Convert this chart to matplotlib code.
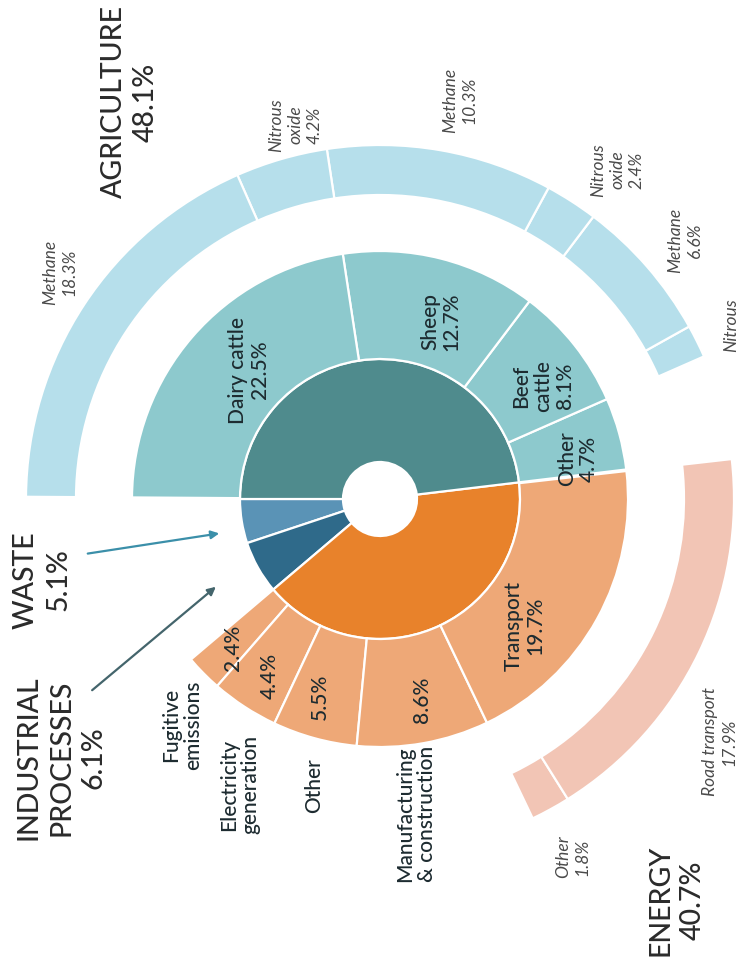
import matplotlib.pyplot as plt

W, H = 744, 962

# inner ring: sectors, counter-clockwise from 9 o'clock
sectors = ["WASTE", "INDUSTRIAL\nPROCESSES", "ENERGY", "AGRICULTURE"]
sector_pct = [5.1, 6.1, 40.7, 48.1]

# middle ring
energy_sources = ["Fugitive\nemissions", "Electricity\ngeneration", "Other",
                  "Manufacturing\n& construction", "Transport"]
energy_pct = [2.4, 4.4, 5.5, 8.6, 19.7]
agri_sources = ["Other", "Beef\ncattle", "Sheep", "Dairy cattle"]
agri_pct = [4.7, 8.1, 12.7, 22.5]

# outer ring
transport_gases = ["Other", "Road transport"]
transport_pct = [1.8, 17.9]
gases = ["Nitrous\noxide", "Methane"]
beef_pct = [1.5, 6.6]
sheep_pct = [2.4, 10.3]
dairy_pct = [4.2, 18.3]

# colours
c_inner = ["#5a93b6", "#2f6a8a", "#e8822b", "#4f8b8d"]
c_agri_mid = "#8dc9cd"
c_agri_out = "#b6dfeb"
c_en_mid = "#eea877"
c_en_out = "#f2c5b5"

center = (380, H - 500)
edge = dict(edgecolor="white", linewidth=1.6)

fig = plt.figure(figsize=(W / 100, H / 100), dpi=100)
ax = fig.add_axes([0, 0, 1, 1])


def ring(vals, cols, radius, width):
    wedges, _ = ax.pie(vals, radius=radius, center=center, startangle=180,
                       counterclock=True, colors=[c if c else "white" for c in cols],
                       wedgeprops=dict(width=width, **edge))
    for w, c in zip(wedges, cols):
        if c is None:
            w.set_visible(False)


ring(sector_pct, c_inner, 140, 103)

small = sector_pct[0] + sector_pct[1]
pad_e = max(sector_pct[2] - sum(energy_pct), 0)
pad_a = max(sector_pct[3] - sum(agri_pct), 0)
mid_vals = [small] + energy_pct + [pad_e] + agri_pct + [pad_a]
mid_cols = [None] + [c_en_mid] * 5 + [None] + [c_agri_mid] * 4 + [None]
ring(mid_vals, mid_cols, 248, 108)

out_vals = [small, sum(energy_pct[:-1])] + transport_pct + [pad_e, agri_pct[0]] \
    + beef_pct + sheep_pct + dairy_pct + [pad_a]
out_cols = [None, None] + [c_en_out] * 2 + [None, None] + [c_agri_out] * 6 + [None]
ring(out_vals, out_cols, 354, 50)

ax.set_xlim(0, W)
ax.set_ylim(0, H)
ax.axis("off")

head = dict(family="Lato", fontsize=20.5, weight="medium", color="#2b2b2b", linespacing=1.3)
inner = dict(family="Lato", fontsize=15, weight="medium", color="#1d2b30", linespacing=1.1)
ital = dict(family="Lato", fontsize=12.5, style="italic", color="#4a4a4a", linespacing=1.25)


def put(x, y, s, **kw):
    ax.text(x, H - y, s, rotation=90, ha="center", va="center", **kw)


# headers
put(130, 102, f"{sectors[3]}\n{sector_pct[3]}%", **head)
put(677, 900, f"{sectors[2]}\n{sector_pct[2]}%", **head)
put(42, 580, f"{sectors[0]}\n{sector_pct[0]}%", **head)
put(61, 758, f"{sectors[1]}\n{sector_pct[1]}%", **head)

# agriculture sources
agri_pos = [(578, 459), (543, 386), (441, 322), (249, 370)]
for (x, y), name, p in zip(agri_pos, agri_sources, agri_pct):
    put(x, y, f"{name}\n{p}%", **inner)

# energy sources: value inside, name outside
en_in = [(233, 648), (270, 676), (320, 697), (422, 700)]
en_out = [(182, 725), (240, 785), (314, 786), (416, 814)]
for i in range(4):
    put(*en_in[i], f"{energy_pct[i]}%", **inner)
    put(*en_out[i], energy_sources[i], multialignment="left" if i == 3 else "center", **inner)
put(525, 626, f"{energy_sources[4]}\n{energy_pct[4]}%", **inner)

# gases
put(573, 857, f"{transport_gases[0]}\n{transport_pct[0]}%", **ital)
put(720, 742, f"{transport_gases[1]}\n{transport_pct[1]}%", **ital)
gas_pos = [((None, None), (685, 240)), ((617, 170), (460, 100)), ((295, 125), (60, 272))]
for pos, pct in zip(gas_pos, [beef_pct, sheep_pct, dairy_pct]):
    for (x, y), g, p in zip(pos, gases, pct):
        if x is not None:
            put(x, y, f"{g}\n{p}%", **ital)
# beef nitrous oxide label runs off the right edge; only its first word shows
put(731, 325, "Nitrous", **ital)

# arrows for the small sectors
ax.annotate("", xy=(222, H - 534), xytext=(85, H - 555),
            arrowprops=dict(arrowstyle="-|>", color="#3b8fa9", lw=1.6, mutation_scale=12))
ax.annotate("", xy=(218, H - 586), xytext=(90, H - 693),
            arrowprops=dict(arrowstyle="-|>", color="#44656c", lw=1.6, mutation_scale=12))

fig.savefig("out.png", dpi=100)
